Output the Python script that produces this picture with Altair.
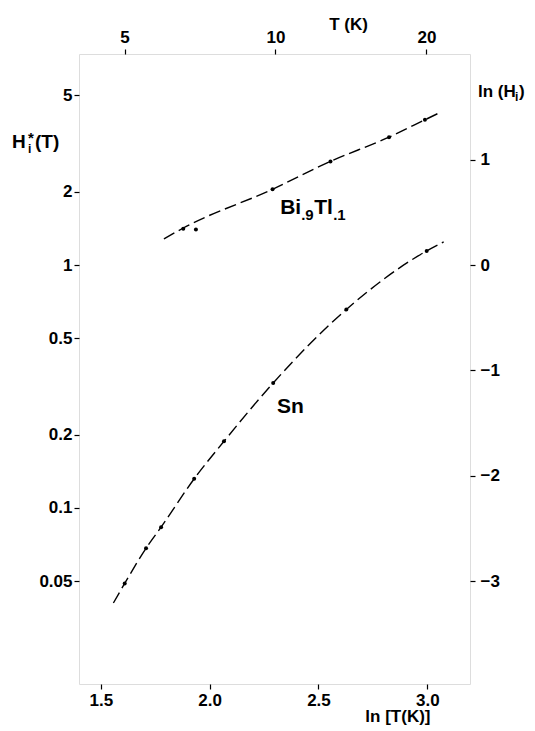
import math
import altair as alt
import pandas as pd

# ---- data ----
bi_lnT = [1.879, 1.937, 2.289, 2.555, 2.824, 2.989]
bi_H = [1.41, 1.40, 2.05, 2.67, 3.36, 3.96]
bi_curve_lnT = [1.790, 1.879, 2.289, 2.555, 2.824, 2.989, 3.064]
bi_curve_H = [1.28, 1.42, 2.05, 2.67, 3.36, 3.96, 4.27]

sn_lnT = [1.610, 1.708, 1.777, 1.929, 2.066, 2.292, 2.628, 2.997]
sn_H = [0.0489, 0.0682, 0.0833, 0.1317, 0.188, 0.327, 0.656, 1.143]
sn_curve_lnT = [1.558, 1.610, 1.708, 1.777, 1.929, 2.066, 2.292, 2.628, 2.997, 3.075]
sn_curve_H = [0.0406, 0.0489, 0.0682, 0.0833, 0.1317, 0.188, 0.327, 0.656, 1.143, 1.245]

x_ticks = [1.5, 2.0, 2.5, 3.0]
top_T_ticks = [5, 10, 20]
y_ticks = [0.05, 0.1, 0.2, 0.5, 1, 2, 5]
right_ln_ticks = [-3, -2, -1, 0, 1]

X_DOMAIN = [1.400, 3.196]
Y_DOMAIN = [0.01884, 7.39]

FONT = "Liberation Sans"
W, H = 391, 630

bi_curve = pd.DataFrame({"lnT": bi_curve_lnT, "H": bi_curve_H})
sn_curve = pd.DataFrame({"lnT": sn_curve_lnT, "H": sn_curve_H})
pts = pd.DataFrame({"lnT": bi_lnT + sn_lnT, "H": bi_H + sn_H})

xs = alt.Scale(domain=X_DOMAIN, zero=False, nice=False)
ys = alt.Scale(type="log", domain=Y_DOMAIN, nice=False)

ax_common = dict(grid=False, domain=False, tickColor="black", tickWidth=1.2,
                 tickSize=5, labelFont=FONT, labelFontWeight="bold",
                 labelFontSize=17, labelColor="black", titleFont=FONT,
                 titleFontWeight="bold", titleColor="black")

x_bottom = alt.Axis(orient="bottom", values=x_ticks, format=".1f", labelPadding=3,
                    title="ln [T(K)]", titleFontSize=17, titleAlign="right",
                    titleAnchor="start", titleX=351, titleY=37, titleBaseline="alphabetic",
                    **ax_common)
x_top = alt.Axis(orient="top", values=[math.log(t) for t in top_T_ticks],
                 labelExpr="format(exp(datum.value), '.0f')", labelPadding=3,
                 title="T (K)", titleFontSize=17, titleAlign="center",
                 titleAnchor="start", titleX=269, titleY=-25, titleBaseline="alphabetic",
                 **ax_common)
y_left = alt.Axis(orient="left", values=y_ticks, format="~g", labelPadding=2,
                  title=None, **ax_common)
y_right = alt.Axis(orient="right", values=[math.exp(v) for v in right_ln_ticks],
                   labelExpr="format(log(datum.value), '.0f')", labelPadding=5,
                   labelAlign="left", title=None, **ax_common)

line_style = dict(color="black", strokeWidth=1.4, strokeDash=[12, 5],
                  interpolate="monotone", clip=True)

bi_line = alt.Chart(bi_curve).mark_line(**line_style).encode(
    x=alt.X("lnT:Q", scale=xs, axis=x_bottom),
    y=alt.Y("H:Q", scale=ys, axis=y_left),
    order="lnT:Q",
)
sn_line = alt.Chart(sn_curve).mark_line(**line_style).encode(
    x=alt.X("lnT:Q", scale=xs, axis=x_top),
    y=alt.Y("H:Q", scale=ys, axis=y_right),
    order="lnT:Q",
)
points = alt.Chart(pts).mark_circle(color="black", size=16, opacity=1).encode(
    x=alt.X("lnT:Q", scale=xs, axis=None),
    y=alt.Y("H:Q", scale=ys, axis=None),
)

# curve labels, anchored in data coordinates
def data_text(lnT, Hv, text, size, dx=0, dy=0):
    df = pd.DataFrame({"lnT": [lnT], "H": [Hv], "t": [text]})
    return alt.Chart(df).mark_text(font=FONT, fontWeight="bold", fontSize=size,
                                   align="left", baseline="alphabetic",
                                   dx=dx, dy=dy, color="black").encode(
        x=alt.X("lnT:Q", scale=xs, axis=None),
        y=alt.Y("H:Q", scale=ys, axis=None),
        text="t:N",
    )

BI_X, BI_Y = 2.324, 1.62
SN_X, SN_Y = 2.309, 0.246
bi_label = [
    data_text(BI_X, BI_Y, "Bi", 21, dx=0),
    data_text(BI_X, BI_Y, ".9", 15, dx=21, dy=6),
    data_text(BI_X, BI_Y, "Tl", 21, dx=34, dy=0),
    data_text(BI_X, BI_Y, ".1", 15, dx=53, dy=6),
]
sn_label = [data_text(SN_X, SN_Y, "Sn", 21)]

# axis titles with sub/superscripts (pixel positions relative to plot area)
def px_text(x, y, text, size):
    df = pd.DataFrame({"t": [text]})
    return alt.Chart(df).mark_text(font=FONT, fontWeight="bold", fontSize=size,
                                   align="left", baseline="alphabetic",
                                   color="black").encode(
        x=alt.value(x), y=alt.value(y), text="t:N")

left_title = [
    px_text(-67, 94, "H", 19),
    px_text(-51, 89, "*", 15),
    px_text(-51, 99, "i", 12),
    px_text(-44, 94, "(T)", 19),
]
right_title = [
    px_text(399, 43, "ln (H", 17),
    px_text(436, 47, "i", 12),
    px_text(440, 43, ")", 17),
]

chart = alt.layer(
    bi_line, sn_line, points, *bi_label, *sn_label, *left_title, *right_title
).resolve_axis(x="independent", y="independent").properties(
    width=W, height=H,
    autosize=alt.AutoSizeParams(type="none"),
    padding={"left": 79, "top": 54, "right": 535 - 79 - W, "bottom": 731 - 54 - H},
).configure_view(stroke="black", strokeWidth=1.3).configure(background="white")

chart.save("out.html", embed_options={"renderer": "svg", "actions": False})
